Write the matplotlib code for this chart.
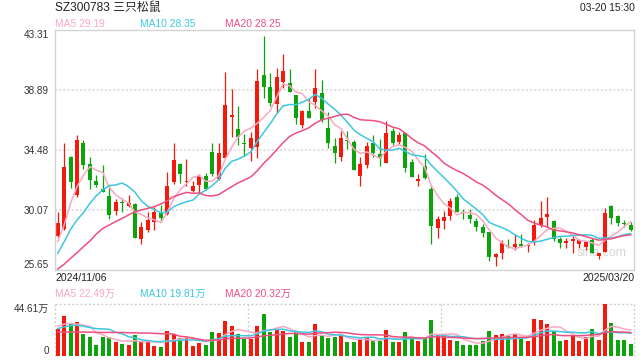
import matplotlib
matplotlib.use('Agg')
import matplotlib.pyplot as plt
import numpy as np
import pandas as pd

plt.rcParams['font.family'] = ['Liberation Sans', 'Noto Sans CJK SC', 'DejaVu Sans']

# daily OHLC, 2024/11/06 .. 2025/03/20
opens = [28.18, 28.67, 33.99, 31.17, 35.02, 33.45, 32.22, 31.61, 31.12, 29.99,
         30.68, 30.38, 30.51, 27.93, 28.59, 29.21, 29.94, 29.75, 32.15, 33.45,
         32.13, 31.49, 31.90, 32.57, 34.33, 32.35, 33.92, 36.91, 36.03, 34.97,
         34.60, 34.72, 40.00, 39.09, 37.86, 39.51, 39.44, 38.53, 36.32, 37.35,
         38.04, 38.65, 36.07, 34.77, 33.99, 35.17, 35.07, 32.59, 33.38, 34.97,
         34.19, 33.55, 35.88, 35.09, 35.71, 33.60, 32.20, 33.30, 31.61, 28.76,
         29.28, 29.65, 30.99, 29.87, 29.70, 29.26, 28.79, 28.47, 26.63, 26.88,
         27.42, 27.37, 27.56, 27.42, 27.69, 28.96, 29.57, 29.26, 27.93, 27.61,
         27.81, 27.54, 27.32, 27.86, 26.70, 27.00, 30.36, 29.65, 29.08, 28.96]
highs = [29.94, 34.97, 34.04, 35.58, 35.22, 33.99, 32.64, 33.38, 31.86, 30.85,
         30.92, 31.17, 30.60, 29.21, 29.94, 30.31, 30.43, 32.84, 34.97, 33.55,
         33.79, 32.22, 32.71, 32.76, 34.97, 34.97, 40.19, 38.94, 37.72, 35.66,
         35.83, 40.46, 42.87, 40.12, 40.49, 41.52, 40.44, 38.53, 37.42, 38.33,
         40.44, 39.63, 37.25, 35.39, 35.88, 35.88, 35.22, 33.99, 35.09, 35.58,
         35.26, 36.64, 36.12, 35.78, 35.71, 33.79, 32.71, 34.19, 31.90, 29.62,
         29.99, 30.92, 31.24, 30.14, 30.14, 29.45, 29.03, 28.47, 26.93, 27.86,
         27.93, 28.27, 28.27, 27.61, 29.33, 30.73, 31.05, 29.33, 28.05, 27.98,
         28.22, 27.93, 27.81, 27.98, 26.93, 30.19, 30.43, 29.70, 29.33, 29.21]
lows = [28.05, 28.59, 31.71, 31.05, 33.06, 31.61, 31.73, 31.36, 29.40, 29.70,
        29.94, 30.31, 28.03, 27.54, 28.47, 28.59, 29.21, 29.70, 31.98, 32.03,
        31.83, 31.41, 31.29, 31.54, 32.57, 32.27, 33.87, 35.46, 34.85, 34.04,
        33.69, 33.87, 38.28, 37.72, 37.18, 39.02, 38.72, 36.39, 36.12, 36.86,
        37.55, 36.52, 34.60, 33.55, 33.69, 34.53, 33.01, 31.86, 33.13, 33.99,
        33.30, 33.50, 34.85, 34.85, 32.89, 32.47, 31.86, 32.35, 27.54, 28.03,
        28.64, 29.33, 29.89, 29.38, 29.13, 28.52, 28.05, 26.31, 25.94, 26.46,
        27.29, 27.12, 27.37, 27.00, 27.49, 28.84, 28.84, 27.81, 27.24, 27.29,
        26.93, 27.24, 27.12, 26.93, 26.46, 27.00, 29.03, 28.91, 28.84, 28.52]
closes = [29.13, 33.25, 32.15, 35.22, 33.38, 32.27, 31.90, 31.41, 29.70, 30.65,
          30.58, 30.60, 28.03, 28.84, 29.33, 29.94, 29.50, 31.86, 33.74, 32.69,
          32.20, 31.83, 32.57, 31.61, 32.71, 34.23, 37.79, 37.03, 35.41, 34.92,
          35.34, 39.56, 39.14, 37.96, 39.85, 40.29, 38.77, 36.86, 37.35, 36.86,
          39.02, 36.69, 34.97, 34.23, 35.34, 35.12, 33.01, 33.43, 34.77, 34.23,
          33.87, 35.71, 35.02, 35.58, 33.13, 32.52, 32.35, 32.44, 28.91, 29.38,
          29.53, 30.73, 29.94, 29.82, 29.38, 28.84, 28.40, 26.63, 26.83, 27.61,
          27.37, 27.56, 27.42, 27.49, 28.96, 29.45, 29.77, 27.91, 27.61, 27.81,
          27.93, 27.86, 27.69, 26.93, 26.88, 29.82, 29.45, 29.13, 29.01, 28.59]
# volume in 万 shares
volumes = [23.5, 34.3, 27.3, 29.4, 18.5, 16.7, 9.7, 16.1, 16.7, 11.7,
           10.3, 9.4, 17.6, 12.3, 12.3, 8.8, 7.9, 21.1, 18.5, 15.3,
           15.6, 8.8, 11.4, 9.7, 20.5, 19.7, 29.9, 25.5, 18.5, 14.4,
           14.4, 25.5, 36.1, 20.5, 23.5, 21.4, 16.7, 20.5, 11.7, 11.7,
           27.3, 18.2, 15.3, 16.7, 17.6, 11.7, 11.7, 14.1, 15.6, 13.2,
           12.6, 22.0, 12.3, 12.3, 20.3, 15.3, 12.6, 14.7, 30.8, 18.2,
           17.0, 14.1, 12.6, 9.7, 9.7, 9.7, 13.2, 21.1, 17.6, 19.1,
           18.2, 19.1, 15.6, 13.2, 31.7, 30.8, 27.3, 21.4, 13.2, 14.1,
           18.2, 12.6, 16.7, 22.9, 14.1, 44.61, 28.5, 14.1, 14.1, 10.3]

# MA values before the window fills (history before 11/06 is off-chart)
ma5_head = [27.73, 28.96, 30.56, 31.78]
ma10_head = [26.88, 27.73, 28.64, 29.33, 29.87, 30.56, 31.12, 31.54, 31.86]
ma20_head = [25.72, 26.07, 26.51, 26.92, 27.37, 27.78, 28.30, 28.71, 28.96, 29.21,
             29.45, 29.70, 29.94, 30.07, 30.19, 30.31, 30.51, 30.75, 31.05]
vma5_head = [25.5, 27.3, 27.9, 27.3]
vma10_head = [23.5, 24.9, 26.1, 26.4, 25.5, 24.4, 23.5, 23.2, 22.9]
vma20_head = [20.5, 20.5, 20.5, 20.5, 20.5, 20.5, 20.2, 20.2, 20.2, 20.2,
              20.2, 19.9, 19.9, 19.7, 19.7, 19.4, 19.1, 19.1, 18.8]

price_ticks = [43.31, 38.89, 34.48, 30.07, 25.65]
ma_last = [29.19, 28.35, 28.25]
vma_last = [22.49, 19.81, 20.32]
start_date = '2024/11/06'
end_date = '2025/03/20'
title = 'SZ300783 三只松鼠'
timestamp = '03-20 15:30'

RED = '#f2190d'
GREEN = '#0ca30c'
MA_COLORS = ['#f9a9c1', '#3fc6e2', '#ee4f7f']

df = pd.DataFrame({'open': opens, 'high': highs, 'low': lows,
                   'close': closes, 'vol': volumes})
x = np.arange(len(df))
colors = np.where(df['close'] >= df['open'], RED, GREEN)


def ma(s, n, head):
    m = s.rolling(n).mean()
    m.iloc[:len(head)] = head
    return m


fig = plt.figure(figsize=(6.4, 3.6), dpi=100)
W, H = 640, 360
ax = fig.add_axes([54.5 / W, 90 / H, 579.5 / W, 240 / H])
axv = fig.add_axes([54.5 / W, 4 / H, 579.5 / W, 52 / H])

# candles
ax.vlines(x, df['low'], df['high'], colors=colors, lw=0.9, zorder=2)
body_bot = np.minimum(df['open'], df['close'])
body_h = np.maximum((df['close'] - df['open']).abs(), 0.07)
ax.bar(x, body_h, bottom=body_bot, width=0.62, color=colors, lw=0, zorder=2)

for n, head, c in zip([5, 10, 20], [ma5_head, ma10_head, ma20_head], MA_COLORS):
    ax.plot(x, ma(df['close'], n, head), color=c, lw=1.1, zorder=3)

for v in price_ticks[1:-1]:
    ax.axhline(v, color='#e0e0e0', lw=1.5, ls=(0, (1, 1)), zorder=0)

ax.set_xlim(-0.5, len(df) - 0.5)
ax.set_ylim(price_ticks[-1], price_ticks[0])
ax.set_xticks([])
ax.set_yticks(price_ticks)
ax.set_yticklabels([f'{v:.2f}' for v in price_ticks])
ax.tick_params(axis='y', length=0, pad=4, labelsize=7.2, labelcolor='#333333')
labels = ax.get_yticklabels()
labels[0].set_va('top')
labels[-1].set_va('bottom')
for s in ax.spines.values():
    s.set_color('#d3d3d3')
    s.set_linewidth(1)

ax.text(0.945, 0.07, 'sina.com', transform=ax.transAxes, ha='center', va='center',
        fontsize=9, color='#d6d6d6', zorder=1)

# volume
axv.bar(x, df['vol'], width=0.62, color=colors, lw=0, zorder=2)
for n, head, c in zip([5, 10, 20], [vma5_head, vma10_head, vma20_head], MA_COLORS):
    axv.plot(x, ma(df['vol'], n, head), color=c, lw=1.1, zorder=3)
vmax = df['vol'].max()
axv.set_xlim(-0.5, len(df) - 0.5)
axv.set_ylim(0, vmax)
axv.set_xticks([])
axv.set_yticks([vmax, 0])
axv.set_yticklabels([f'{vmax:.2f}万', '0'])
axv.tick_params(axis='y', length=0, pad=4, labelsize=7.2, labelcolor='#333333')
vl = axv.get_yticklabels()
vl[0].set_va('top')
vl[1].set_va('bottom')
for s in axv.spines.values():
    s.set_visible(False)
dot = dict(color='#d0d0d0', lw=1, ls=(0, (1.5, 1.5)), zorder=0, clip_on=False)
axv.axhline(vmax, **dot)
for xv in [-0.5, 29.5, 59.5, len(df) - 0.5]:
    axv.axvline(xv, **dot)

# header texts
fig.text(55 / W, 1 - 8 / H, title, fontsize=8.6, color='#222222', va='center')
fig.text(635 / W, 1 - 8 / H, timestamp, fontsize=7.4, color='#222222',
         va='center', ha='right')
for xp, lab, val, c in zip([55, 140, 225], ['MA5', 'MA10', 'MA20'], ma_last, MA_COLORS):
    fig.text(xp / W, 1 - 24 / H, f'{lab} {val:.2f}', fontsize=7.4, color=c, va='center')
fig.text(55 / W, 1 - 278 / H, start_date, fontsize=7.5, color='#222222', va='center')
fig.text(635 / W, 1 - 278 / H, end_date, fontsize=7.5, color='#222222',
         va='center', ha='right')
for xp, lab, val, c in zip([55, 140, 225], ['MA5', 'MA10', 'MA20'], vma_last, MA_COLORS):
    fig.text(xp / W, 1 - 294 / H, f'{lab} {val:.2f}万', fontsize=7.4, color=c, va='center')

fig.savefig('out.png', dpi=100)
